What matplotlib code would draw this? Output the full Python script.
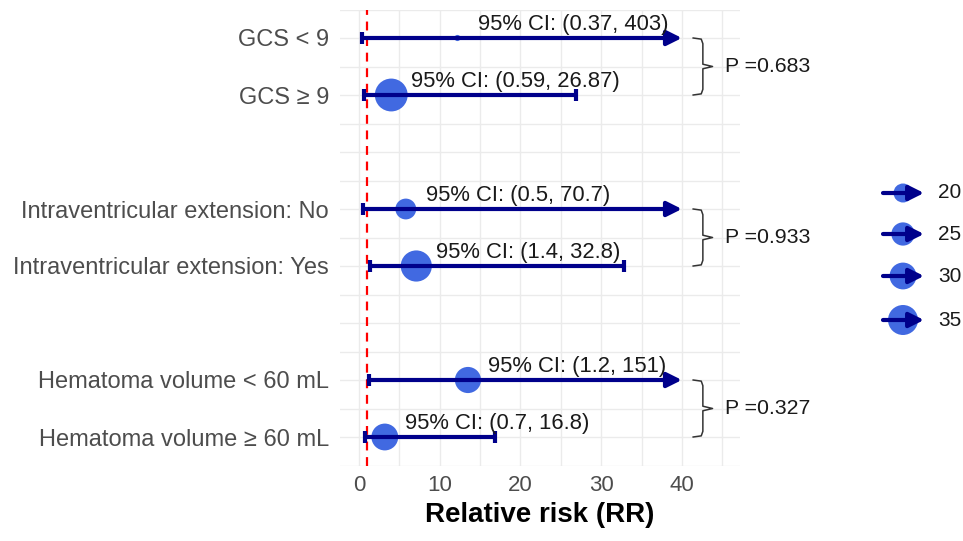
import numpy as np
import matplotlib
matplotlib.use("Agg")
import matplotlib.pyplot as plt

plt.rcParams['font.family'] = ['Liberation Sans', 'DejaVu Sans']

# data
labels = ["GCS < 9", "GCS ≥ 9",
          "Intraventricular extension: No", "Intraventricular extension: Yes",
          "Hematoma volume < 60 mL", "Hematoma volume ≥ 60 mL"]
rows = [1, 2, 4, 5, 7, 8]
rr = [12.2, 4.0, 5.8, 7.1, 13.5, 3.2]
ci_low = [0.37, 0.59, 0.5, 1.4, 1.2, 0.7]
ci_high = [403, 26.87, 70.7, 32.8, 151, 16.8]
ci_text = ["(0.37, 403)", "(0.59, 26.87)", "(0.5, 70.7)",
           "(1.4, 32.8)", "(1.2, 151)", "(0.7, 16.8)"]
n = [11, 40, 22, 37, 29, 30]
p_values = ["0.683", "0.933", "0.327"]
legend_sizes = [20, 25, 30, 35]
cap = 40

navy = "#00008B"
blue = "#4169E1"


def marker_area(v):
    # diameter in px, area linear in value (like ggplot size scale)
    d_px = np.sqrt(np.maximum(-357 + 35.9 * np.asarray(v, float), 4))
    return (d_px * 0.72) ** 2


fig = plt.figure(figsize=(9.63, 5.41), dpi=100)
ax = fig.add_axes([340 / 963, 1 - 465.5 / 541, 400 / 963, 456 / 541])

ax.set_xlim(-2.35, 47.2)
ax.set_ylim(8.5, 0.5)

for gx in np.arange(0, 50, 5):
    ax.axvline(gx, color="#ebebeb", lw=1, zorder=0)
for gy in np.arange(0.5, 8.6, 0.5):
    ax.axhline(gy, color="#ebebeb", lw=1, zorder=0)

ax.axvline(1, color="red", lw=1.6, ls=(0, (4, 3)), zorder=1)

ax.scatter(rr, rows, s=marker_area(n), color=blue, zorder=2, linewidths=0)

for y, lo, hi, m, txt in zip(rows, ci_low, ci_high, rr, ci_text):
    if hi > cap:
        ax.annotate("", xy=(cap, y), xytext=(lo, y),
                    arrowprops=dict(arrowstyle="-|>", lw=3, color=navy,
                                    mutation_scale=22, shrinkA=0, shrinkB=0),
                    zorder=3)
    else:
        ax.plot([lo, hi], [y, y], color=navy, lw=3, solid_capstyle="butt", zorder=3)
        ax.plot([hi], [y], marker="|", ms=9, mew=3, color=navy, zorder=3)
    ax.plot([lo], [y], marker="|", ms=9, mew=3, color=navy, zorder=3)
    ax.text(m + 2.5, y - 0.14, "95% CI: " + txt, ha="left", va="baseline",
            fontsize=15.8, color="#1a1a1a", zorder=4)

# brackets with p values
for k, p in enumerate(p_values):
    r1 = rows[2 * k]
    r2 = rows[2 * k + 1]
    rm = (r1 + r2) / 2
    bx = [41.4, 42.4, 42.6, 42.6, 43.8, 42.6, 42.6, 42.4, 41.4]
    by = [r1, r1 + 0.02, r1 + 0.1, rm - 0.04, rm, rm + 0.04, r2 - 0.1, r2 - 0.02, r2]
    ax.plot(bx, by, color="#333333", lw=1.1, clip_on=False)
    ax.text(45.3, rm, "P =" + p, ha="left", va="center", fontsize=15.3,
            color="#1a1a1a", clip_on=False)

ax.set_yticks(rows)
ax.set_yticklabels(labels, fontsize=17, color="#4d4d4d")
ax.set_xticks([0, 10, 20, 30, 40])
ax.set_xticklabels(["0", "10", "20", "30", "40"], fontsize=16, color="#4d4d4d")
ax.tick_params(axis="y", length=0, pad=8)
ax.tick_params(axis="x", length=0, pad=7)
for s in ax.spines.values():
    s.set_visible(False)
ax.set_xlabel("Relative risk (RR)", fontsize=20, fontweight="bold", labelpad=4)

# size legend
lax = fig.add_axes([0, 0, 1, 1])
lax.set_xlim(0, 963)
lax.set_ylim(541, 0)
lax.axis("off")
leg_y = [193, 234, 276, 320]
lax.scatter([903] * 4, leg_y, s=marker_area(legend_sizes), color=blue, linewidths=0)
for y, v in zip(leg_y, legend_sizes):
    lax.annotate("", xy=(924, y), xytext=(883, y),
                 arrowprops=dict(arrowstyle="-|>", lw=3, color=navy,
                                 mutation_scale=22, shrinkA=0, shrinkB=0))
    lax.text(938, y, str(v), ha="left", va="center", fontsize=15, color="#1a1a1a")

fig.savefig("out.png", dpi=100)
